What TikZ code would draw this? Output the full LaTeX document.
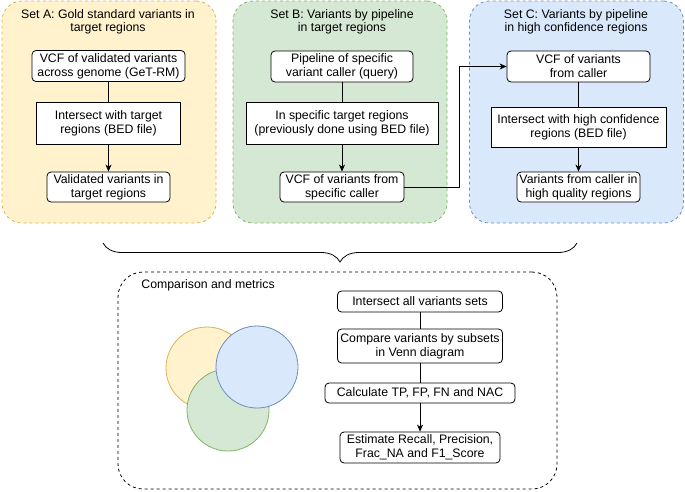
\documentclass[tikz,border=0pt]{standalone}
\usepackage{fontspec}
\setmainfont{Liberation Sans}
\usetikzlibrary{calc,arrows.meta,decorations.pathreplacing}
\definecolor{yelfill}{HTML}{FFF2CC}
\definecolor{yeldraw}{HTML}{D6B656}
\definecolor{grnfill}{HTML}{D5E8D4}
\definecolor{grndraw}{HTML}{82B366}
\definecolor{blufill}{HTML}{DAE8FC}
\definecolor{bludraw}{HTML}{6C8EBF}
\begin{document}
\begin{tikzpicture}[x=1pt,y=-1pt,>={Stealth[length=7pt,width=6pt,inset=2pt]},line width=0.8pt,
    font=\fontsize{12.3}{14}\selectfont,
    group/.style={draw=#1,dashed,rounded corners=20pt,minimum width=214pt,minimum height=222pt},
    title/.style={align=center,inner sep=0pt,font=\fontsize{12.3}{13}\selectfont},
    rbox/.style={draw,fill=white,rounded corners=4pt,align=center,inner sep=0pt},
    sbox/.style={draw,fill=white,align=center,inner sep=0pt},
    venn/.style={circle,minimum size=82pt,inner sep=0pt}]
    \useasboundingbox (0,0) rectangle (685,491);
    \node[group=yeldraw,fill=yelfill] (setA) at (109,112) {};
    \node[group=grndraw,fill=grnfill] (setB) at (340,112) {};
    \node[group=bludraw,fill=blufill] (setC) at (576.5,112) {};
    \node[title] (tA) at (108,21.5) {Set A: Gold standard variants in\\target regions};
    \node[title] (tB) at (342,21.5) {Set B: Variants by pipeline\\in target regions};
    \node[title] (tC) at (576,21.5) {Set C: Variants by pipeline\\in high confidence regions};
    \node[rbox,minimum width=153pt,minimum height=31pt] (a1) at (108.5,66) {VCF of validated variants\\across genome (GeT-RM)};
    \node[sbox,minimum width=144pt,minimum height=42pt] (a2) at (108.5,123) {Intersect with target\\regions (BED file)};
    \node[rbox,minimum width=123pt,minimum height=30pt] (a3) at (108.5,187) {Validated variants in\\target regions};
    \node[rbox,minimum width=142pt,minimum height=31pt] (b1) at (342,66.5) {Pipeline of specific\\variant caller (query)};
    \node[sbox,minimum width=192pt,minimum height=42pt] (b2) at (342,123) {In specific target regions\\(previously done using BED file)};
    \node[rbox,minimum width=124pt,minimum height=30pt] (b3) at (342,187) {VCF of variants from\\specific caller};
    \node[rbox,minimum width=143pt,minimum height=31pt] (c1) at (578.5,66.5) {VCF of variants\\from caller};
    \node[sbox,minimum width=175pt,minimum height=40pt] (c2) at (578.5,127) {Intersect with high confidence\\regions (BED file)};
    \node[rbox,minimum width=123pt,minimum height=30pt] (c3) at (578.5,187) {Variants from caller in\\high quality regions};
    \draw (a1) -- (a2);
    \draw[->] (a2) -- (a3);
    \draw (b1) -- (b2);
    \draw[->] (b2) -- (b3);
    \draw (c1) -- (c2);
    \draw[->] (c2) -- (c3);
    \draw[->] (b3.east) -- ++(55,0) |- (c1.west);
    \draw[decorate,decoration={brace,amplitude=19pt,mirror}] (103,243) -- (577,243);
    \node[draw,dashed,rounded corners=25pt,minimum width=439pt,minimum height=217pt] (cmp) at (337.5,380.5) {};
    \node[anchor=west,inner sep=0pt] (cmpt) at (141,285) {Comparison and metrics};
    \node[venn,fill=yelfill,draw=yeldraw] (vA) at (207,368) {};
    \node[venn,fill=grnfill,draw=grndraw] (vB) at (228,410) {};
    \node[venn,fill=blufill,draw=bludraw] (vC) at (257,367) {};
    \node[rbox,minimum width=165pt,minimum height=21pt] (m1) at (420,301.5) {Intersect all variants sets};
    \node[rbox,minimum width=165pt,minimum height=34pt] (m2) at (420,346) {Compare variants by subsets\\in Venn diagram};
    \node[rbox,minimum width=190pt,minimum height=20pt] (m3) at (420,393) {Calculate TP, FP, FN and NAC};
    \node[rbox,minimum width=160pt,minimum height=31pt] (m4) at (420,447.5) {Estimate Recall, Precision,\\Frac\_NA and F1\_Score};
    \draw (m1) -- (m2);
    \draw (m2) -- (m3);
    \draw[->] (m3) -- (m4);
\end{tikzpicture}
\end{document}
